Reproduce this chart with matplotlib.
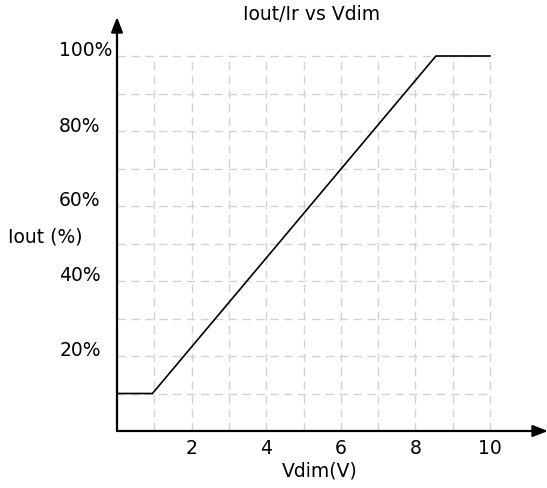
import matplotlib
matplotlib.use("Agg")
import matplotlib.pyplot as plt
import numpy as np

# data
vdim = [0, 0.95, 8.55, 10]
iout = [10, 10, 100, 100]
xticks = [2, 4, 6, 8, 10]
yticks = [20, 40, 60, 80, 100]
ylabels = ["20%", "40%", "60%", "80%", "100%"]
xgrid = np.arange(1, 11)
ygrid = np.arange(10, 101, 10)

plt.rcParams['font.family'] = ['DejaVu Sans']
FS = 13.5

fig = plt.figure(figsize=(5.47, 4.89), dpi=100)
W, H = 547, 489
x0, y0, x1, y1 = 117, 432, 548, 18
ax = fig.add_axes([x0 / W, 1 - y0 / H, (x1 - x0) / W, (y0 - y1) / H])
ax.set_xlim(0, (x1 - x0) / 37.3)
ax.set_ylim(0, (y0 - y1) / 3.75)
ax.axis('off')

# dashed grid, limited to 0..10 / 0..100%
gridkw = dict(color='#d2d2d2', lw=1.0, linestyles=(0, (6, 4)), zorder=1)
ax.vlines(xgrid, 0, 100, **gridkw)
ax.hlines(ygrid, 0, 10, **gridkw)

ax.plot(vdim, iout, color='black', lw=1.2, zorder=3)

# axes with arrow heads
arrow = dict(arrowstyle='-|>,head_length=0.9,head_width=0.35', color='black', lw=1.6,
             shrinkA=0, shrinkB=0)
ax.annotate('', xy=(1, 0), xytext=(0, 0), xycoords='axes fraction', arrowprops=arrow)
ax.annotate('', xy=(0, 1), xytext=(0, 0), xycoords='axes fraction', arrowprops=arrow)

for x in xticks:
    ax.text(x, -4.4, str(x), ha='center', va='center', fontsize=FS)
for y, lab in zip(yticks, ylabels):
    ax.text(-1.55, y + 1.6, lab, ha='left', va='center', fontsize=FS)

ax.text(5.43, -10.4, "Vdim(V)", ha='center', va='center', fontsize=FS)
fig.text(45 / W, 1 - 237 / H, "Iout (%)", ha='center', va='center', fontsize=FS)
fig.text(312 / W, 1 - 15 / H, "Iout/Ir vs Vdim", ha='center', va='center', fontsize=FS)

fig.savefig("out.png", dpi=100)
